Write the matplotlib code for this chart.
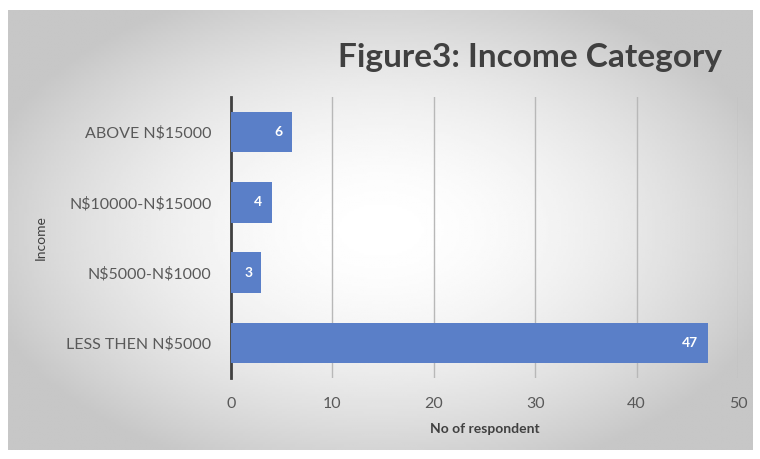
import matplotlib.pyplot as plt
import numpy as np

# data
categories = ['LESS THEN N$5000', 'N$5000-N$1000', 'N$10000-N$15000', 'ABOVE N$15000']
respondents = [47, 3, 4, 6]
x_ticks = [0, 10, 20, 30, 40, 50]

plt.rcParams['font.family'] = ['Lato', 'DejaVu Sans']
plt.rcParams['text.parse_math'] = False

fig = plt.figure(figsize=(7.6, 4.59), dpi=100)

# gray gradient background of the chart box
bg = fig.add_axes([8 / 760, 9 / 459, 744 / 760, 440 / 459])
yy, xx = np.mgrid[-1:1:200j, -1:1:300j]
r = np.sqrt((xx * 0.95) ** 2 + (yy * 0.9) ** 2)
shade = np.clip(1.0 - 0.2 * r ** 1.8, 0.78, 1.0)
bg.imshow(shade, cmap='gray', vmin=0, vmax=1, aspect='auto', extent=[0, 1, 0, 1])
bg.set_axis_off()

ax = fig.add_axes([231 / 760, 81 / 459, 507 / 760, 281 / 459])
ax.patch.set_alpha(0)
y = np.arange(len(categories))
ax.barh(y, respondents, height=0.58, color='#5a7fc8', zorder=3)

for yi, v in zip(y, respondents):
    ax.text(v - 0.9, yi, str(v), color='white', fontweight='bold', fontsize=10,
            ha='right', va='center', zorder=4)

ax.set_xlim(0, 50)
ax.set_ylim(-0.5, 3.5)
ax.set_xticks(x_ticks)
ax.set_yticks(y)
ax.set_yticklabels(categories)
ax.grid(axis='x', color='#b8b8b8', linewidth=1, zorder=0)
for s in ['top', 'right', 'bottom']:
    ax.spines[s].set_visible(False)
ax.spines['left'].set_color('#404040')
ax.spines['left'].set_linewidth(2)
ax.tick_params(axis='both', length=0, labelsize=11.5, labelcolor='#595959')
ax.tick_params(axis='x', pad=14)
ax.tick_params(axis='y', pad=14)

ax.set_xlabel('No of respondent', fontsize=10, fontweight='bold', color='#404040', labelpad=8)
ax.set_ylabel('Income', fontsize=10, color='#404040', labelpad=14)

fig.text(0.95, 1 - 57 / 459, 'Figure3: Income Category', fontsize=24, fontweight='bold',
         color='#404040', ha='right', va='center')

fig.savefig('out.png', dpi=100)
